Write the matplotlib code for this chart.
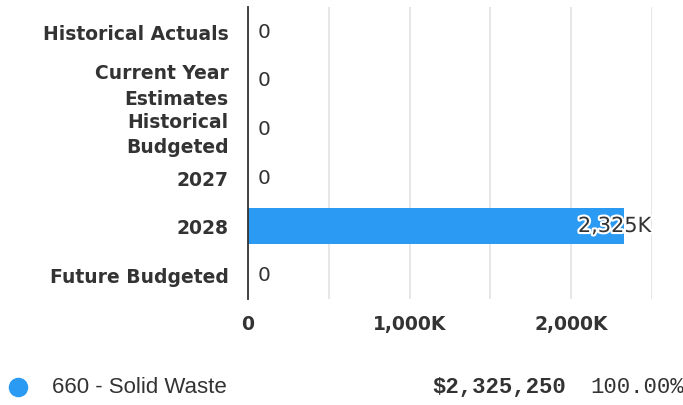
import matplotlib
matplotlib.use("Agg")
import matplotlib.pyplot as plt
import matplotlib.patheffects as pe
from matplotlib.ticker import FuncFormatter, MultipleLocator

categories = ["Historical Actuals", "Current Year\nEstimates", "Historical\nBudgeted",
              "2027", "2028", "Future Budgeted"]
values = [0, 0, 0, 0, 2325250, 0]
series_name = "660 - Solid Waste"
total_label = "$2,325,250"
pct_label = "100.00%"
bar_color = "#2b9af3"
text_color = "#333333"

fig = plt.figure(figsize=(6.83, 4.06), dpi=100)
ax = fig.add_axes([248/683, 1-300/406, (652-248)/683, (300-8)/406])

y = list(range(len(categories)))
ax.barh(y, values, height=0.72, color=bar_color, zorder=3)
ax.set_ylim(len(categories)-0.5, -0.5)
ax.set_xlim(0, 2500000)
ax.xaxis.set_major_locator(MultipleLocator(1000000))
ax.xaxis.set_minor_locator(MultipleLocator(500000))
ax.xaxis.set_major_formatter(FuncFormatter(lambda v, p: "0" if v == 0 else f"{v/1000:,.0f}K"))
ax.grid(axis="x", which="both", color="#e3e3e3", linewidth=1.2, zorder=0)
for s in ["top", "right", "bottom"]:
    ax.spines[s].set_visible(False)
ax.spines["left"].set_color(text_color)
ax.spines["left"].set_linewidth(1.3)
ax.spines["left"].set_zorder(4)
ax.tick_params(axis="both", which="both", length=0)
ax.tick_params(axis="x", pad=11)
ax.tick_params(axis="y", pad=14)
ax.set_yticks(y)
ax.set_yticklabels(categories, fontsize=13.5, fontweight="bold", color=text_color,
                   linespacing=1.45)
for lab in ax.get_xticklabels():
    lab.set_fontsize(13.5)
    lab.set_fontweight("bold")
    lab.set_color(text_color)

for yi, v in zip(y, values):
    if v == 0:
        ax.annotate("0", (v, yi), xytext=(7, 0), textcoords="offset points",
                    ha="left", va="center", fontsize=14.5, color=text_color)
    else:
        t = ax.annotate(f"{v/1000:,.0f}K", (v, yi), xytext=(-33, 0), textcoords="offset points",
                        ha="left", va="center", fontsize=15, color=text_color, zorder=5)
        t.set_path_effects([pe.withStroke(linewidth=3, foreground="white")])

# legend row
fig.text(52/683, 1-388/406, series_name, ha="left", va="center", fontsize=16,
         color=text_color, family="Liberation Sans")
fig.text(566/683, 1-388/406, total_label, ha="right", va="center", fontsize=16,
         fontweight="bold", color=text_color, family="Liberation Mono")
fig.text(684/683, 1-388/406, pct_label, ha="right", va="center", fontsize=16,
         color=text_color, family="Liberation Mono")
lax = fig.add_axes([0, 0, 1, 1], zorder=-1)
lax.set_xlim(0, 683); lax.set_ylim(406, 0); lax.axis("off")
lax.scatter([18], [388], s=170, color=bar_color)

fig.savefig("out.png", dpi=100)
